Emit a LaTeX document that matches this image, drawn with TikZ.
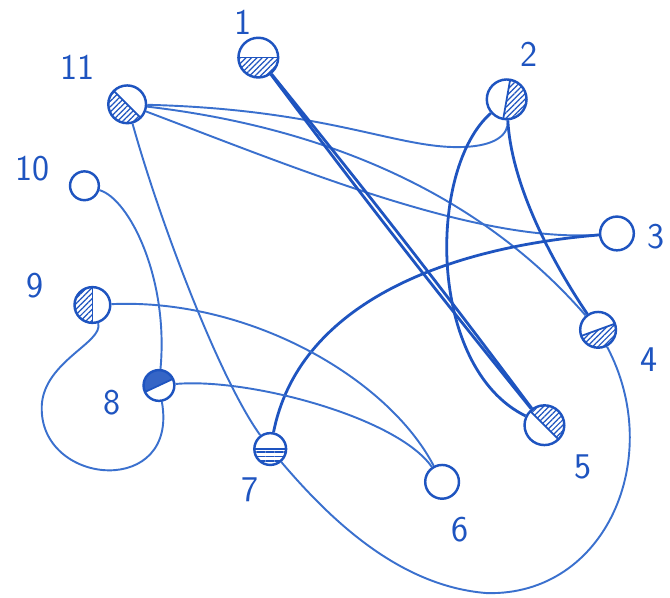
\documentclass[tikz,border=0pt]{standalone}
\usepackage{tikz}
\usetikzlibrary{patterns.meta}
\definecolor{ink}{RGB}{30,84,192}
\definecolor{inklight}{RGB}{58,112,206}

\begin{document}
\begin{tikzpicture}[x=0.02cm, y=-0.02cm,
    vertex/.style={circle, draw=ink, line width=1.4pt, minimum size=0.72cm, inner sep=0pt},
    hatch/.style={pattern={Lines[angle=45,distance=2.2pt,line width=0.7pt]}, pattern color=ink},
    half/.style={path picture={
        \fill[hatch] (path picture bounding box.center) ++(#1:1cm) -- ++(#1-90:1cm) -- ++(#1+180:2cm) -- ++(#1+90:1cm) -- cycle;
        \draw[ink, line width=1pt] (path picture bounding box.center) ++(#1:1cm) -- ++(#1+180:2cm);}},
    num/.style={text=ink, font=\huge\sffamily},
    link/.style={draw=inklight, line width=1.1pt},
    heavylink/.style={draw=ink, line width=1.6pt},
]
    \path[fill=white] (0,0) rectangle (670,601);

    \node[vertex, half=0, minimum size=0.8cm] (v1) at (260,58) {};
    \node[vertex, half=80, minimum size=0.8cm] (v2) at (510,100) {};
    \node[vertex, minimum size=0.68cm] (v3) at (621,235) {};
    \node[vertex, half=20] (v4) at (602,332) {};
    \node[vertex, half=135, minimum size=0.8cm] (v5) at (548,428) {};
    \node[vertex, minimum size=0.68cm] (v6) at (445,485) {};
    \node[vertex, hatch/.style={pattern={Lines[angle=0,distance=2.6pt,line width=0.8pt]}, pattern color=ink}, half=0, minimum size=0.64cm] (v7) at (272,452) {};
    \node[vertex, hatch/.style={fill=ink!90}, half=205, minimum size=0.62cm] (v8) at (160,388) {};
    \node[vertex, half=-90] (v9) at (93,307) {};
    \node[vertex, minimum size=0.58cm] (v10) at (85,187) {};
    \node[vertex, half=-45, minimum size=0.76cm] (v11) at (128,105) {};

    \node[num] (l1) at (245,22) {1};
    \node[num] (l2) at (532,55) {2};
    \node[num] (l3) at (660,238) {3};
    \node[num] (l4) at (653,362) {4};
    \node[num] (l5) at (587,470) {5};
    \node[num] (l6) at (463,533) {6};
    \node[num] (l7) at (252,493) {7};
    \node[num] (l8) at (113,405) {8};
    \node[num] (l9) at (35,288) {9};
    \node[num] (l10) at (33,170) {10};
    \node[num] (l11) at (78,68) {11};

    % edges
    \draw[link] (v11) .. controls (330,110) and (400,150) .. (465,148) .. controls (500,147) and (512,135) .. (v2);
    \draw[link] (v11) .. controls (300,125) and (470,180) .. (v4);
    \draw[link] (v11) .. controls (300,170) and (480,245) .. (v3);
    \draw[link] (v11) .. controls (160,220) and (220,380) .. (v7);
    \draw[heavylink] (v1) to[bend left=1] (v5);
    \draw[heavylink] (v1) to[bend right=1] (v5);
    \draw[heavylink] (v2) .. controls (430,170) and (430,370) .. (v5);
    \draw[heavylink] (v2) .. controls (515,190) and (560,270) .. (v4);
    \draw[heavylink] (v3) .. controls (440,250) and (300,310) .. (v7);
    \draw[link] (v10) .. controls (130,200) and (170,280) .. (v8);
    \draw[link] (v9) .. controls (105,345) and (40,365) .. (42,413) .. controls (44,490) and (180,500) .. (v8);
    \draw[link] (v9) .. controls (250,300) and (390,380) .. (v6);
    \draw[link] (v8) .. controls (250,380) and (400,420) .. (v6);
    \draw[link] (v7) .. controls (330,520) and (400,590) .. (490,597) .. controls (610,600) and (670,460) .. (v4);
\end{tikzpicture}
\end{document}
